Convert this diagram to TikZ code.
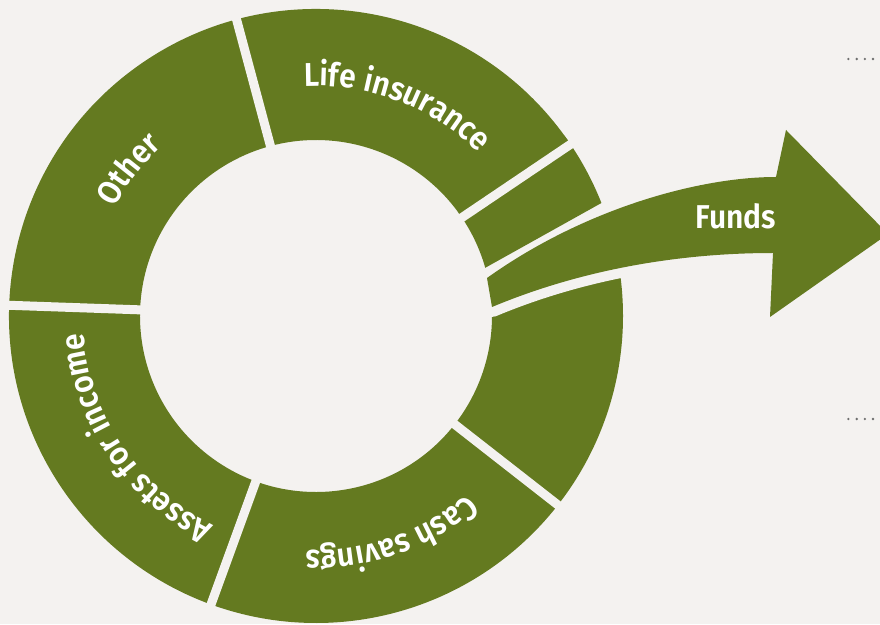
\documentclass[tikz,border=0pt]{standalone}
\usepackage{fontspec}
\newfontfamily\ringfont{Fira Sans SemiBold}[FakeStretch=0.91]
\newcommand\ringtext{\ringfont\fontsize{33}{36}\selectfont}
\usetikzlibrary{calc,decorations.text}
\definecolor{segGreen}{HTML}{647A20}
\definecolor{paper}{HTML}{F4F2F0}
\definecolor{dotgray}{HTML}{6E6E6E}
\tikzset{
	segment/.style={fill=segGreen},
	gap/.style={draw=paper,line width=9},
	ringlabel/.style={decorate,decoration={text along path,text align=center,text color=white,text={#1}}}
}

\begin{document}
\begin{tikzpicture}[x=1pt,y=1pt]
	\fill[paper] (0,0) rectangle (880,624);
	\useasboundingbox (0,0) rectangle (880,624);
	\clip (0,0) rectangle (880,624);

	% ring
	\begin{scope}[shift={(316,308)}]
		\fill[segment] (34:176) -- (34:307) arc[start angle=34,end angle=322,radius=307]
			-- (322:176) arc[start angle=322,end angle=34,radius=176] -- cycle;
		\fill[segment] (-38:176) -- (-38:307) arc[start angle=-38,end angle=14,radius=307]
			-- (14:176) arc[start angle=14,end angle=-38,radius=176] -- cycle;
	\end{scope}

	% funds arrow
	\fill[segment,preaction={draw=paper,line width=20,line join=round}]
		(492,317) .. controls (590,358) and (690,371) .. (773,371) -- (770,307) -- (888,390)
		-- (786,494) -- (776,447) .. controls (700,447) and (585,416) .. (487,346) -- cycle;
	\node[font=\ringtext,text=white] (funds) at (736,408) {Funds};

	\begin{scope}[shift={(316,308)}]
		% small segment above the arrow
		\fill[segment] (15.9:176) -- (21.6:307) arc[start angle=21.6,end angle=36,radius=307]
			-- (36:176) arc[start angle=36,end angle=15.9,radius=176] -- cycle;

		% gaps
		\foreach \a in {34,105,178,250,322}
			\draw[gap] (\a:160) -- (\a:320);

		% labels
		\path[ringlabel={|\ringtext|Life insurance}] (109:230) arc[start angle=109,end angle=29,radius=230];
		\path[ringlabel={|\ringtext|Other}] (182:229) arc[start angle=182,end angle=102,radius=229];
		\path[ringlabel={|\ringtext|Assets for income}] (259:233) arc[start angle=259,end angle=169,radius=233];
		\path[ringlabel={|\ringtext|Cash savings}] (-26:234) arc[start angle=-26,end angle=-116,radius=234];
	\end{scope}

	% dots
	\foreach \x in {848.3,856.7,864.9,873}{
		\fill[dotgray] (\x,565) circle (1.3);
		\fill[dotgray] (\x,205) circle (1.3);
	}
\end{tikzpicture}
\end{document}
